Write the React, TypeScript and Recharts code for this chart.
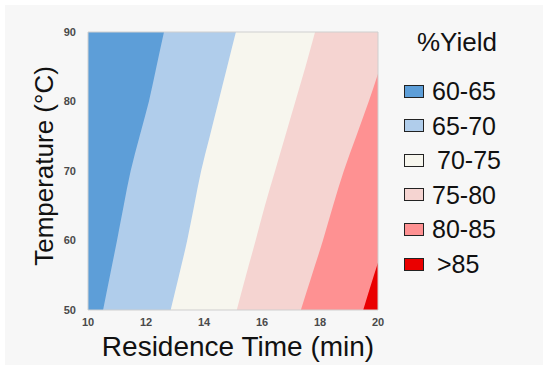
import React from 'react';
import { AreaChart, Area, XAxis, YAxis, ReferenceArea } from 'recharts';

// Temperature samples (°C) along the vertical axis
const temperatures = [50, 55, 60, 65, 70, 75, 80, 85, 90];
// Residence time (min) of each contour edge at each temperature
const timeMax = [20, 20, 20, 20, 20, 20, 20, 20, 20];
const edge80_85 = [19.49, 19.86, 20.24, 20.62, 21.0, 21.4, 21.8, 22.2, 22.6];
const edge75_80 = [17.34, 17.72, 18.1, 18.45, 18.82, 19.25, 19.68, 20.08, 20.5];
const edge70_75 = [15.13, 15.45, 15.78, 16.1, 16.45, 16.8, 17.15, 17.5, 17.83];
const edge65_70 = [12.85, 13.14, 13.42, 13.66, 13.9, 14.2, 14.5, 14.8, 15.1];
const edge60_65 = [10.52, 10.76, 11.0, 11.23, 11.47, 11.78, 12.1, 12.36, 12.62];

const xTicks = [10, 12, 14, 16, 18, 20];
const yTicks = [50, 60, 70, 80, 90];

const bandLabels = ['60-65', '65-70', '\u200970-75', '75-80', '80-85', '\u2009>85'];
const bandColors = ['#5d9ed8', '#b0cdeb', '#f7f6ee', '#f5d4d1', '#fe9192', '#ea0000'];

const data = temperatures.map((t, i) => ({
  temp: t,
  b6: timeMax[i],
  b5: edge80_85[i],
  b4: edge75_80[i],
  b3: edge70_75[i],
  b2: edge65_70[i],
  b1: edge60_65[i],
}));

const font = '"Liberation Sans", Arial, sans-serif';

export default function App() {
  const drawOrder = [
    { key: 'b6', color: bandColors[5] },
    { key: 'b5', color: bandColors[4] },
    { key: 'b4', color: bandColors[3] },
    { key: 'b3', color: bandColors[2] },
    { key: 'b2', color: bandColors[1] },
    { key: 'b1', color: bandColors[0] },
  ];
  return (
    <div style={{ position: 'absolute', left: 0, top: 0, width: 550, height: 371, background: '#ffffff', fontFamily: font }}>
      <div style={{ position: 'absolute', left: 5, top: 5, width: 538, height: 360, background: '#f7f7f7' }} />
      <div style={{ position: 'absolute', left: 0, top: 0 }}>
        <AreaChart
          width={550}
          height={371}
          layout="vertical"
          data={data}
          margin={{ top: 32, right: 172, bottom: 16, left: 28 }}
        >
          <XAxis
            type="number"
            domain={[10, 20]}
            ticks={xTicks}
            allowDataOverflow
            height={45}
            tickLine={false}
            axisLine={false}
            tick={{ fontSize: 11, fontWeight: 700, fill: '#4a4a4a', fontFamily: font }}
            tickMargin={2}
            label={{ value: 'Residence Time (min)', position: 'insideBottom', offset: -1, dx: 5, style: { fontSize: 28, fill: '#111', fontFamily: font } }}
          />
          <YAxis
            type="number"
            dataKey="temp"
            domain={[50, 90]}
            ticks={yTicks}
            allowDataOverflow
            reversed
            width={60}
            tickLine={false}
            axisLine={false}
            tick={{ fontSize: 11, fontWeight: 700, fill: '#4a4a4a', fontFamily: font }}
            tickMargin={6}
            label={{ value: 'Temperature (°C)', angle: -90, position: 'insideLeft', offset: 16, dy: -5, style: { fontSize: 26, fill: '#111', fontFamily: font, textAnchor: 'middle' } }}
          />
          {drawOrder.map((d) => (
            <Area
              key={d.key}
              dataKey={d.key}
              type="monotone"
              stroke="none"
              fill={d.color}
              fillOpacity={1}
              isAnimationActive={false}
              dot={false}
              activeDot={false}
            />
          ))}
          <ReferenceArea x1={10} x2={20} y1={50} y2={90} fill="none" stroke="#cfcfcf" strokeWidth={1} ifOverflow="visible" />
        </AreaChart>
      </div>
      <div style={{ position: 'absolute', left: 417, top: 27, fontSize: 26, color: '#111', lineHeight: '30px' }}>%Yield</div>
      {bandLabels.map((lab, i) => (
        <div key={lab} style={{ position: 'absolute', left: 404, top: 76 + i * 34.6, height: 30, display: 'flex', alignItems: 'center' }}>
          <div style={{ width: 18, height: 11, background: bandColors[i], border: '1.5px solid #222', marginRight: 8 }} />
          <span style={{ fontSize: 25, color: '#111', lineHeight: '30px', whiteSpace: 'pre' }}>{lab}</span>
        </div>
      ))}
    </div>
  );
}
